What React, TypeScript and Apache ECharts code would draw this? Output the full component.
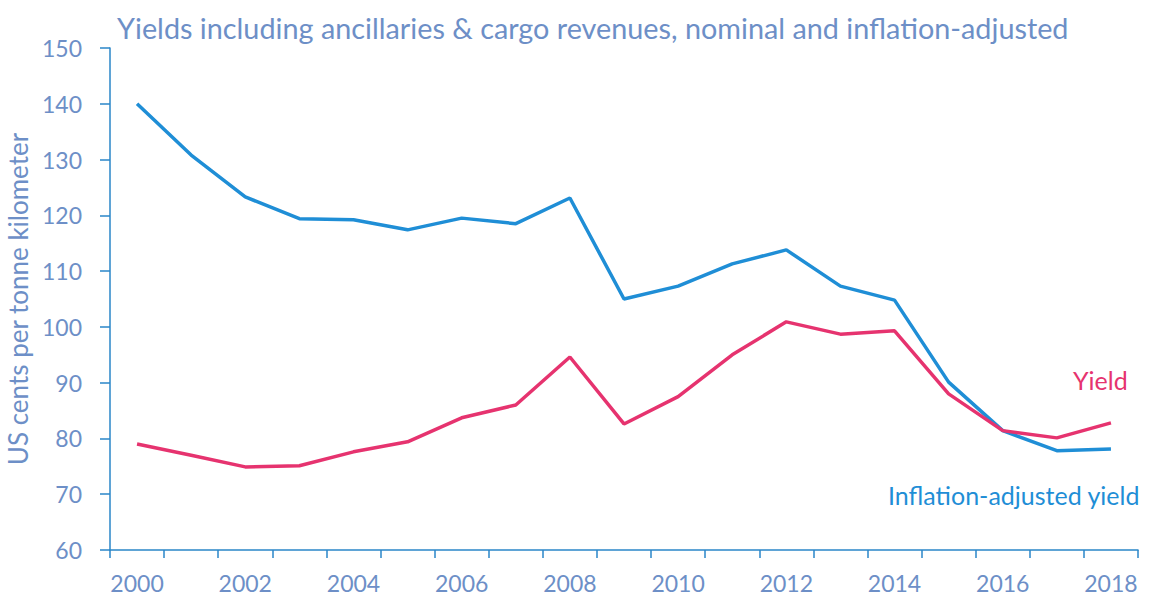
import React, { useEffect, useRef } from "react";
import * as echarts from "echarts";

const years = ["2000","2001","2002","2003","2004","2005","2006","2007","2008","2009","2010","2011","2012","2013","2014","2015","2016","2017","2018"];
const inflationAdjusted = [140.0,130.8,123.3,119.4,119.2,117.4,119.5,118.5,123.1,105.0,107.3,111.3,113.8,107.3,104.8,90.1,81.4,77.8,78.1];
const yieldNominal = [79.0,77.0,74.9,75.1,77.6,79.4,83.7,86.0,94.6,82.6,87.5,95.0,100.9,98.7,99.3,88.0,81.4,80.1,82.8];

const titleText = "Yields including ancillaries & cargo revenues, nominal and inflation-adjusted";
const yAxisName = "US cents per tonne kilometer";
const yieldLabel = "Yield";
const inflLabel = "Inflation-adjusted yield";

const textColor = "#6d8fc7";
const axisColor = "#2a86c8";
const blue = "#1f8ed6";
const red = "#e6336f";
const font = "Lato, 'Open Sans', sans-serif";

export default function App() {
  const ref = useRef<HTMLDivElement>(null);
  useEffect(() => {
    if (!ref.current) return;
    const chart = echarts.init(ref.current, null, { renderer: "svg" });
    chart.setOption({
      animation: false,
      backgroundColor: "#ffffff",
      textStyle: { fontFamily: font },
      title: {
        text: titleText,
        left: 112,
        top: 8,
        textStyle: { color: textColor, fontSize: 28.8, fontWeight: "normal", fontFamily: font },
      },
      grid: { left: 110, right: 13, top: 48, bottom: 48, outerBoundsMode: "none", containLabel: false },
      xAxis: {
        type: "category",
        data: years,
        boundaryGap: true,
        axisLine: { lineStyle: { color: axisColor, width: 1.5 } },
        axisTick: { show: true, length: 8, lineStyle: { color: axisColor, width: 1.5 }, interval: 0 },
        axisLabel: {
          interval: 1,
          color: textColor,
          fontSize: 23,
          margin: 21,
          fontFamily: font,
        },
        splitLine: { show: false },
      },
      yAxis: {
        type: "value",
        min: 60,
        max: 150,
        interval: 10,
        name: yAxisName,
        nameLocation: "middle",
        nameGap: 76,
        nameTextStyle: { color: textColor, fontSize: 26, fontFamily: font },
        axisLine: { show: true, lineStyle: { color: axisColor, width: 1.5 } },
        axisTick: { show: true, length: 10, lineStyle: { color: axisColor, width: 1.5 } },
        axisLabel: { color: textColor, fontSize: 23, margin: 28, fontFamily: font },
        splitLine: { show: false },
      },
      series: [
        {
          name: inflLabel,
          type: "line",
          data: inflationAdjusted,
          symbol: "none",
          lineStyle: { color: blue, width: 3.5 },
          itemStyle: { color: blue },
        },
        {
          name: yieldLabel,
          type: "line",
          data: yieldNominal,
          symbol: "none",
          lineStyle: { color: red, width: 3.5 },
          itemStyle: { color: red },
        },
      ],
      graphic: [
        {
          type: "text",
          x: 1073,
          y: 380,
          style: { text: yieldLabel, fill: red, fontSize: 25, fontFamily: font, verticalAlign: "middle" },
        },
        {
          type: "text",
          x: 888,
          y: 495,
          style: { text: inflLabel, fill: blue, fontSize: 25, fontFamily: font, verticalAlign: "middle" },
        },
      ],
    });
    return () => chart.dispose();
  }, []);
  return <div ref={ref} style={{ position: "absolute", left: 0, top: 0, width: 1151, height: 598 }} />;
}
